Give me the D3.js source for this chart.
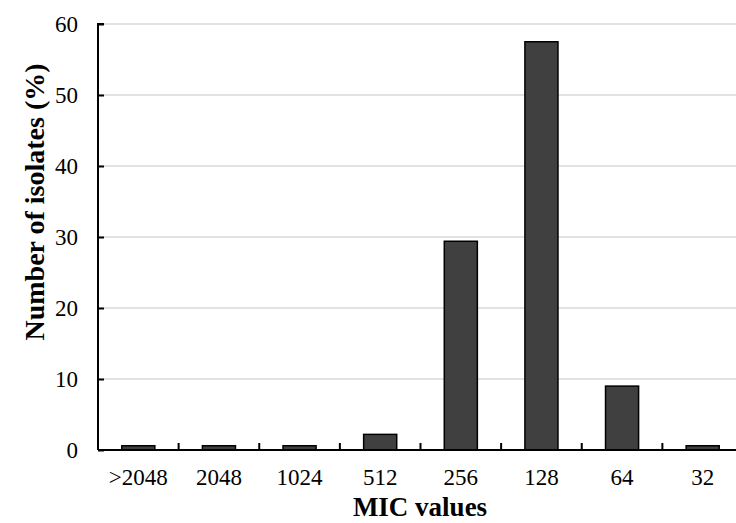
<!DOCTYPE html>
<html>
<head>
<meta charset="utf-8">
<script src="https://cdn.jsdelivr.net/npm/d3@7"></script>
<style>
  body { margin: 0; background: #fff; }
  svg { display: block; font-family: 'Liberation Serif', 'Times New Roman', serif; }
</style>
</head>
<body>
<svg width="736" height="523"></svg>
<script>
// MIC categories, left to right as in the figure
const micLabels = ['>2048', '2048', '1024', '512', '256', '128', '64', '32'];
// share of isolates (%) per MIC value
const isolatePct = [0.6, 0.6, 0.6, 2.2, 29.4, 57.5, 9.0, 0.6];
const yTicks = [0, 10, 20, 30, 40, 50, 60];

const FONT = "'Liberation Serif', 'Times New Roman', serif";

const svg = d3.select('svg');
const margin = {top: 24, left: 98};
const plotW = 645; // runs past the right edge, the original is cropped there
const plotH = 426;

const x = d3.scaleBand()
  .domain(micLabels)
  .range([margin.left, margin.left + plotW])
  .paddingInner(0.59)
  .paddingOuter(0.295);

const y = d3.scaleLinear()
  .domain([0, 60])
  .range([margin.top + plotH, margin.top]);

// gridlines
svg.append('g')
  .selectAll('line')
  .data(yTicks.filter((d) => d > 0))
  .join('line')
    .attr('x1', margin.left)
    .attr('x2', 736)
    .attr('y1', (d) => y(d))
    .attr('y2', (d) => y(d))
    .attr('stroke', '#d9d9d9')
    .attr('stroke-width', 1.3);

// bars
svg.append('g')
  .selectAll('rect')
  .data(micLabels)
  .join('rect')
    .attr('x', (d) => x(d))
    .attr('width', x.bandwidth())
    .attr('y', (d, i) => y(isolatePct[i]))
    .attr('height', (d, i) => y(0) - y(isolatePct[i]))
    .attr('fill', '#404040')
    .attr('stroke', '#000')
    .attr('stroke-width', 1.5);

// y axis, ticks pointing into the plot
const yAxis = svg.append('g')
  .attr('transform', `translate(${margin.left},0)`)
  .call(d3.axisRight(y).tickValues(yTicks).tickSize(6));
yAxis.attr('font-family', FONT);
yAxis.select('.domain').attr('stroke-width', 2).attr('d', `M6,${y(60)}H0V${y(0)}`);
yAxis.selectAll('.tick line').attr('stroke-width', 2);
yAxis.selectAll('.tick text')
  .attr('text-anchor', 'end')
  .attr('x', -20)
  .attr('dy', '0.34em')
  .attr('font-size', 23)
  .attr('fill', '#000');

// x axis: category separators pointing up
const xAxis = svg.append('g')
  .attr('transform', `translate(0,${y(0)})`);
xAxis.append('line')
  .attr('x1', margin.left)
  .attr('x2', 736)
  .attr('stroke', '#000')
  .attr('stroke-width', 2);
xAxis.selectAll('.sep')
  .data(micLabels.slice(1))
  .join('line')
    .attr('class', 'sep')
    .attr('x1', (d) => x(d) - x.step() * x.paddingInner() / 2)
    .attr('x2', (d) => x(d) - x.step() * x.paddingInner() / 2)
    .attr('y1', 0)
    .attr('y2', -7)
    .attr('stroke', '#000')
    .attr('stroke-width', 2);
xAxis.selectAll('text')
  .data(micLabels)
  .join('text')
    .attr('x', (d) => x(d) + x.bandwidth() / 2)
    .attr('y', 35)
    .attr('text-anchor', 'middle')
    .attr('font-size', 23)
    .text((d) => d);

// axis titles
svg.append('text')
  .attr('x', 420)
  .attr('y', 516)
  .attr('text-anchor', 'middle')
  .attr('font-size', 27)
  .attr('font-weight', 'bold')
  .text('MIC values');

svg.append('text')
  .attr('transform', 'translate(44,202) rotate(-90)')
  .attr('text-anchor', 'middle')
  .attr('font-size', 28)
  .attr('font-weight', 'bold')
  .text('Number of isolates (%)');
</script>
</body>
</html>
